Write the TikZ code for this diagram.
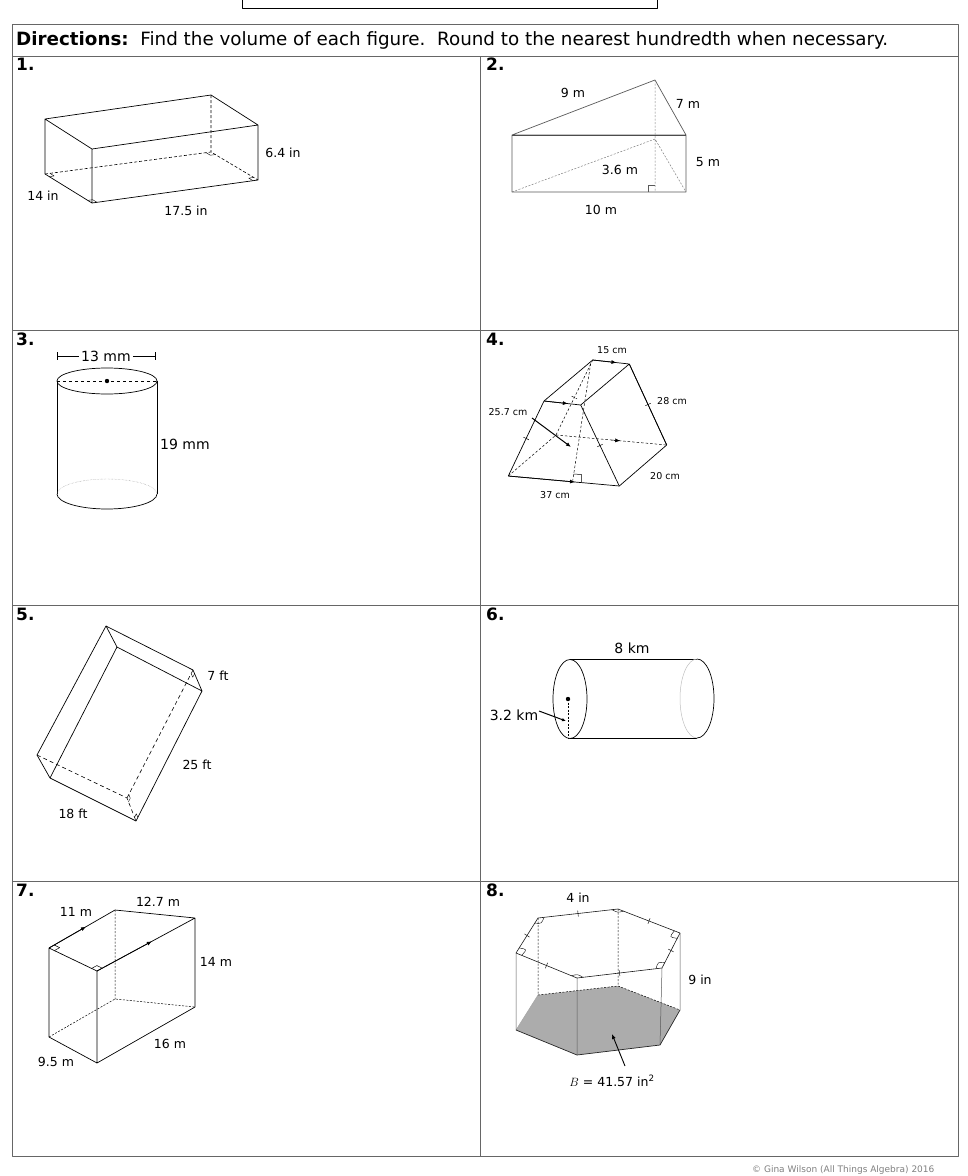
\documentclass[tikz,border=0pt]{standalone}
\usepackage{fontspec}
\setmainfont{DejaVu Sans}
\usetikzlibrary{decorations.markings,arrows.meta,calc}
\begin{document}
\begin{tikzpicture}[x=1pt,y=-1pt,line join=round,
  fig/.style={line width=0.7pt,black},
  hid/.style={line width=0.6pt,dashed,dash pattern=on 3pt off 2pt},
  lbl/.style={font=\fontsize{12.5}{13}\selectfont,inner sep=0pt},
  slbl/.style={font=\fontsize{9.5}{10}\selectfont,inner sep=0pt},
  num/.style={font=\fontsize{17}{18}\selectfont\bfseries,inner sep=0pt,anchor=north west},
  ar/.style={-{Latex[length=5pt,width=4pt]}},
  tick/.style={postaction={decorate},decoration={markings,mark=at position 0.5 with {\draw[line width=0.5pt] (0,-3pt)--(0,3pt);}}}]
\useasboundingbox (0,0) rectangle (968,1176);
\clip (0,0) rectangle (968,1176);
% top box
\draw[line width=1pt] (242,-10) rectangle (657,8);
% table
\draw[line width=1pt,gray!80!black] (12,24) rectangle (958,1156);
\draw[line width=1pt,gray!80!black] (12,56)--(958,56) (12,330)--(958,330) (12,605)--(958,605) (12,881)--(958,881) (480,56)--(480,1156);
\node[anchor=west,inner sep=0pt,font=\fontsize{18.3}{19}\selectfont] (hd) at (16,40) {\textbf{Directions:}\ \ Find the volume of each figure.\ \ Round to the nearest hundredth when necessary.};
\node[num] (n1) at (16,58) {1.};
\node[num] (n2) at (486,58) {2.};
\node[num] (n3) at (16,333) {3.};
\node[num] (n4) at (486,333) {4.};
\node[num] (n5) at (16,608) {5.};
\node[num] (n6) at (486,608) {6.};
\node[num] (n7) at (16,884) {7.};
\node[num] (n8) at (486,884) {8.};
% ---- fig 1
\coordinate (p1) at (45,119); \coordinate (p2) at (211,95); \coordinate (p3) at (258,125); \coordinate (p4) at (92,149);
\coordinate (p5) at (45,174); \coordinate (p6) at (92,203); \coordinate (p7) at (258,180); \coordinate (p8) at (211,152);
\draw[fig] (p1)--(p2)--(p3)--(p4)--cycle (p1)--(p5)--(p6)--(p7)--(p3) (p4)--(p6);
\draw[fig,hid] (p2)--(p8) (p5)--(p8)--(p7);
\foreach \c/\u/\v in {p5/p6/p8,p6/p5/p7,p7/p6/p8,p8/p5/p7}
  \draw[line width=0.4pt] ($(\c)!5pt!(\u)$) -- ($($(\c)!5pt!(\u)$)+($(\c)!5pt!(\v)$)-(\c)$) -- ($(\c)!5pt!(\v)$);
\node[lbl] (l64) at (283,153) {6.4 in};
\node[lbl] (l14) at (43,196) {14 in};
\node[lbl] (l175) at (186,211) {17.5 in};
% ---- fig 2
\coordinate (T) at (655,80); \coordinate (L) at (512,135); \coordinate (R) at (686,135);
\coordinate (BL) at (512,192); \coordinate (BR) at (686,192); \coordinate (H2) at (655,139); \coordinate (F2) at (655,192);
\draw[line width=0.7pt,gray!70!black] (L)--(T)--(R) (L) rectangle (BR);
\draw[line width=0.9pt,gray!60!black] (L)--(R);
\draw[line width=0.5pt,gray,dash pattern=on 2pt off 1.5pt] (T)--(F2) (BL)--(H2)--(BR);
\draw[line width=0.5pt,gray!70!black] (648,192)--(648,185)--(655,185);
\node[lbl] (l9) at (573,93) {9 m};
\node[lbl] (l7) at (688,104) {7 m};
\node[lbl] (l36) at (620,170) {3.6 m};
\node[lbl] (l5) at (708,162) {5 m};
\node[lbl] (l10) at (601,210) {10 m};
% ---- fig 3
\draw[fig] (57,381) arc (180:0:50 and 13) arc (0:-180:50 and 13);
\draw[fig] (57,381)--(57,494) (157,381)--(157,494);
\draw[fig] (57,494) arc (180:0:50 and 15);
\draw[line width=0.4pt,gray,densely dotted] (57,494) arc (180:360:50 and 15);
\draw[line width=0.6pt,dashed] (57,381)--(157,381);
\fill (107,381) circle (2.2pt);
\node[lbl,font=\fontsize{14}{15}\selectfont,fill=white,inner xsep=2pt] (l13) at (106,356) {13 mm};
\draw[line width=0.6pt] (57,356)--(l13.west) (l13.east)--(155,356) (57,352)--(57,360) (155,352)--(155,360);
\node[lbl,anchor=west,font=\fontsize{14}{15}\selectfont] (l19) at (160,444) {19 mm};
% ---- fig 4
\coordinate (A) at (592.7,360); \coordinate (B) at (629.3,364); \coordinate (C) at (544,401); \coordinate (D) at (580.7,405);
\coordinate (E) at (508.3,476); \coordinate (F) at (619.3,486); \coordinate (G) at (666.7,445); \coordinate (H) at (556,435);
\draw[fig] (A)--(C) (B)--(D) (B)--(G)--(F) (A)--(B) (C)--(D) (E)--(F);
\draw[fig,ar] (A)--($(A)!0.65!(B)$);
\draw[fig,ar] (C)--($(C)!0.65!(D)$);
\draw[fig,ar] (E)--($(E)!0.6!(F)$);
\draw[fig,tick] (C)--(E);
\draw[fig,tick] (D)--(F);
\draw[fig,tick] (B)--(G);
\draw[line width=0.5pt,dashed,dash pattern=on 2.5pt off 2pt] (E)--(H);
\draw[line width=0.5pt,dashed,dash pattern=on 2.5pt off 2pt,tick] (A)--(H);
\draw[line width=0.5pt,dashed,dash pattern=on 2.5pt off 2pt] (H)--(G);
\draw[line width=0.5pt,ar] ($(H)!0.5!(G)$)--($(H)!0.58!(G)$);
\draw[line width=0.5pt,dashed,dash pattern=on 2.5pt off 2pt] (590.7,363.3)--(572.7,480.7);
\draw[line width=0.5pt] (573.5,474)--(581.5,474.5)--(581.5,481.8);
\node[slbl] (l15) at (612,350) {15 cm};
\node[slbl] (l28) at (672,401) {28 cm};
\node[slbl] (l257) at (508,412) {25.7 cm};
\node[slbl] (l20) at (665,476) {20 cm};
\node[slbl] (l37) at (555,495) {37 cm};
\coordinate (a4) at (571,447);
\draw[line width=1pt,ar] (532,418)--(a4);
% ---- fig 5
\coordinate (a5) at (106,626); \coordinate (b5) at (117,647); \coordinate (c5) at (193,670); \coordinate (d5) at (202,691);
\coordinate (e5) at (37,755); \coordinate (f5) at (50,778); \coordinate (g5) at (136,821); \coordinate (h5) at (127,798);
\draw[fig] (a5)--(b5)--(d5)--(c5)--cycle (a5)--(e5)--(f5)--(b5) (f5)--(g5)--(d5);
\draw[fig,hid,dash pattern=on 4pt off 3pt] (c5)--(h5) (e5)--(h5)--(g5);
\foreach \c/\u/\v in {c5/h5/d5,h5/c5/g5,g5/h5/d5}
  \draw[line width=0.4pt] ($(\c)!4pt!(\u)$) -- ($($(\c)!4pt!(\u)$)+($(\c)!4pt!(\v)$)-(\c)$) -- ($(\c)!4pt!(\v)$);
\node[lbl] (l7f) at (218,676) {7 ft};
\node[lbl] (l25) at (197,765) {25 ft};
\node[lbl] (l18) at (73,814) {18 ft};
% ---- fig 6
\draw[fig] (570,659)--(697,659) (570,738)--(697,738);
\draw[fig] (570,699) ellipse (17 and 39.5);
\draw[line width=0.7pt] (697,659) arc (-90:90:17 and 39.5);
\draw[line width=0.5pt,gray!50] (697,659) arc (-90:-270:17 and 39.5);
\fill (568,699) circle (2.2pt);
\draw[line width=0.6pt,dashed,dash pattern=on 2pt off 1.5pt] (568,699)--(568,738);
\node[lbl,font=\fontsize{14}{15}\selectfont] (l32) at (514,715) {3.2 km};
\coordinate (a6) at (566,721);
\draw[line width=1pt,-{Latex[length=4pt,width=3.5pt]}] (539,711)--(a6);
\node[lbl,font=\fontsize{14}{15}\selectfont] (l8) at (632,648) {8 km};
% ---- fig 7
\coordinate (p7a) at (49,948); \coordinate (q7) at (115,910); \coordinate (r7) at (195,918); \coordinate (s7) at (97,971);
\coordinate (p7b) at (49,1037); \coordinate (s7b) at (97,1063); \coordinate (r7b) at (195,1007); \coordinate (q7b) at (115,999);
\draw[fig] (q7)--(r7) (s7)--(p7a) (p7a)--(p7b)--(s7b)--(r7b)--(r7) (s7)--(s7b) (p7a)--(q7) (s7)--(r7);
\draw[fig,ar] (p7a)--($(p7a)!0.56!(q7)$);
\draw[fig,ar] (s7)--($(s7)!0.56!(r7)$);
\draw[line width=0.5pt,dashed,dash pattern=on 2pt off 1.5pt] (q7)--(q7b) (p7b)--(q7b)--(r7b);
\foreach \c/\u/\v in {p7a/q7/s7,s7/p7a/r7}
  \draw[line width=0.5pt] ($(\c)!6pt!(\u)$) -- ($($(\c)!6pt!(\u)$)+($(\c)!6pt!(\v)$)-(\c)$) -- ($(\c)!6pt!(\v)$);
\node[lbl] (l11) at (76,912) {11 m};
\node[lbl] (l127) at (158,902) {12.7 m};
\node[lbl] (l14m) at (216,962) {14 m};
\node[lbl] (l16) at (170,1044) {16 m};
\node[lbl] (l95) at (56,1062) {9.5 m};
% ---- fig 8
\coordinate (t1) at (538,918); \coordinate (t2) at (618,909); \coordinate (t3) at (680,933); \coordinate (t4) at (662,968); \coordinate (t5) at (577,978); \coordinate (t6) at (516,953);
\coordinate (b1) at (538,995); \coordinate (b2) at (618,986); \coordinate (b3) at (680,1010); \coordinate (b4) at (660,1045); \coordinate (b5) at (577,1055); \coordinate (b6) at (516,1030);
\fill[gray!65] (b1)--(b2)--(b3)--(b4)--(b5)--(b6)--cycle;
\draw[line width=0.5pt,dashed,dash pattern=on 2pt off 1.5pt] (t1)--(b1) (t2)--(b2) (b1)--(b2)--(b3);
\draw[line width=0.5pt,gray!70] (b6)--(b1);
\draw[line width=0.5pt,gray!70!black] (t6)--(b6) (t5)--(b5) (t4)--(b4) (t3)--(b3);
\draw[line width=0.7pt,gray!30!black] (b3)--(b4)--(b5)--(b6);
\foreach \a/\b in {t1/t2,t2/t3,t3/t4,t4/t5,t5/t6,t6/t1}
  \draw[line width=0.6pt,gray!20!black,tick] (\a)--(\b);
\foreach \c/\u/\v in {t1/t6/t2,t2/t1/t3,t3/t2/t4,t4/t3/t5,t5/t4/t6,t6/t5/t1}
  \draw[line width=0.4pt] ($(\c)!6pt!(\u)$) .. controls ($(\c)!2.6!($($(\c)!6pt!(\u)$)!0.5!($(\c)!6pt!(\v)$)$)$) .. ($(\c)!6pt!(\v)$);
\node[lbl] (l4) at (578,898) {4 in};
\node[lbl] (l9i) at (700,980) {9 in};
\node[lbl] (lB) at (612,1081) {$B$ = 41.57 in\textsuperscript{2}};
\coordinate (a8) at (612,1034);
\draw[line width=0.9pt,ar] (625,1066)--(a8);
% footer
\node[anchor=west,inner sep=0pt,font=\fontsize{9}{10}\selectfont,text=gray] (ft) at (752,1170) {© Gina Wilson (All Things Algebra) 2016};
\end{tikzpicture}
\end{document}
